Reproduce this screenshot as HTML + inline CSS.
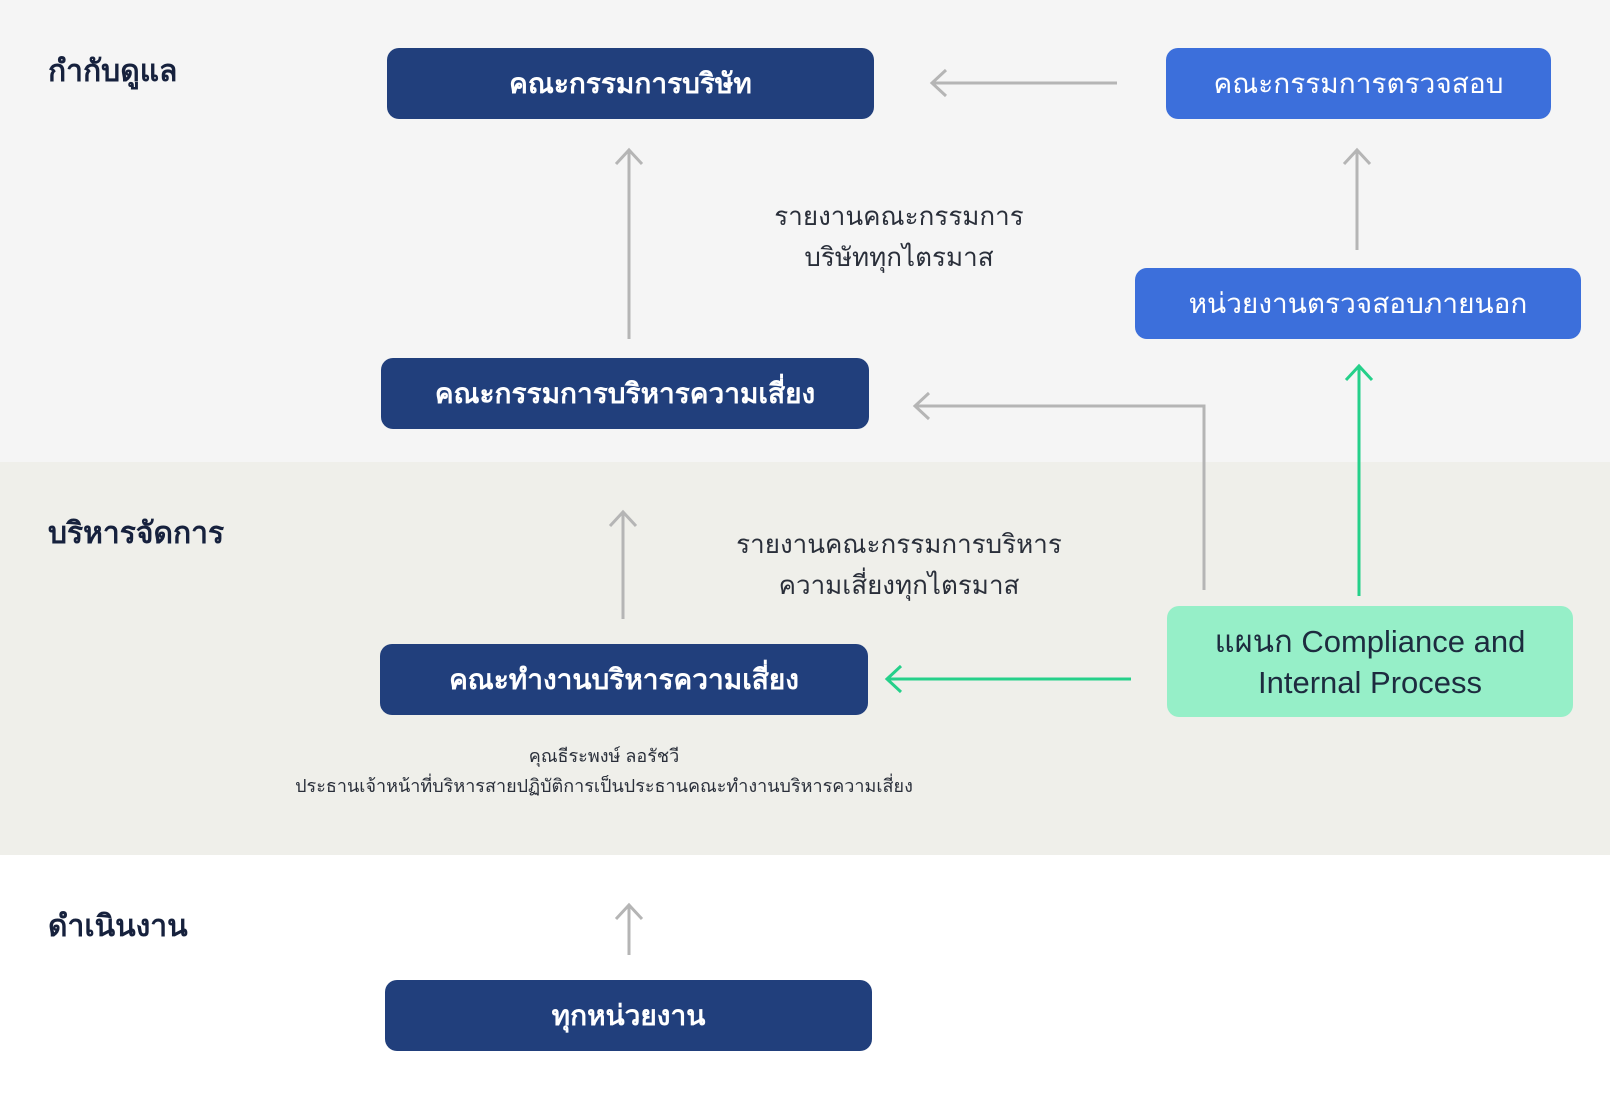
<!DOCTYPE html>
<html><head><meta charset="utf-8"><style>
body{margin:0;width:1610px;height:1100px;position:relative;font-family:"Liberation Sans","Noto Sans CJK SC",sans-serif;background:#fff;overflow:hidden}
.b{position:absolute;display:flex;align-items:center;justify-content:center;border-radius:12px;color:#fff;font-size:28px;text-align:center}
.d{background:#213f7c;font-weight:bold}
.l{background:#3c6fdb}
.lab{position:absolute;font-size:30px;font-weight:bold;color:#16213d}
.t{position:absolute;text-align:center;color:#2a2f3a;font-size:26px;line-height:41px}
</style></head><body>
<div style="position:absolute;left:0;top:0;width:1610px;height:462px;background:#f5f5f5"></div>
<div style="position:absolute;left:0;top:462px;width:1610px;height:393px;background:#efefea"></div>
<div class="lab" style="left:48px;top:48px">กำกับดูแล</div>
<div class="lab" style="left:48px;top:510px">บริหารจัดการ</div>
<div class="lab" style="left:48px;top:903px">ดำเนินงาน</div>
<div class="b d" style="left:387px;top:48px;width:487px;height:71px">คณะกรรมการบริษัท</div>
<div class="b l" style="left:1166px;top:48px;width:385px;height:71px">คณะกรรมการตรวจสอบ</div>
<div class="b l" style="left:1135px;top:268px;width:446px;height:71px">หน่วยงานตรวจสอบภายนอก</div>
<div class="b d" style="left:381px;top:358px;width:488px;height:71px">คณะกรรมการบริหารความเสี่ยง</div>
<div class="b d" style="left:380px;top:644px;width:488px;height:71px">คณะทำงานบริหารความเสี่ยง</div>
<div class="b" style="left:1167px;top:606px;width:406px;height:111px;background:#96efc8;color:#1d2b3f;font-size:31px;line-height:41px">แผนก Compliance and<br>Internal Process</div>
<div class="b d" style="left:385px;top:980px;width:487px;height:71px">ทุกหน่วยงาน</div>
<div class="t" style="left:699px;top:196px;width:400px">รายงานคณะกรรมการ<br>บริษัททุกไตรมาส</div>
<div class="t" style="left:699px;top:524px;width:400px">รายงานคณะกรรมการบริหาร<br>ความเสี่ยงทุกไตรมาส</div>
<div class="t" style="left:204px;top:741px;width:800px;font-size:18px;line-height:30px">คุณธีระพงษ์ ลอรัชวี<br>ประธานเจ้าหน้าที่บริหารสายปฏิบัติการเป็นประธานคณะทำงานบริหารความเสี่ยง</div>
<svg width="1610" height="1100" style="position:absolute;left:0;top:0" fill="none" stroke-width="3">
<g stroke="#b5b5b5">
<path d="M1117 83H934M946 70L932 83L946 96"/>
<path d="M629 339V151M616 164L629 150L642 164"/>
<path d="M1357 250V151M1344 164L1357 150L1370 164"/>
<path d="M1204 590V406H917M929 393L915 406L929 419"/>
<path d="M623 619V513M610 526L623 512L636 526"/>
<path d="M629 955V906M616 919L629 905L642 919"/>
</g>
<g stroke="#25d08a">
<path d="M1359 596V367M1346 380L1359 366L1372 380"/>
<path d="M1131 679H888M901 666L887 679L901 692"/>
</g>
</svg>
</body></html>
